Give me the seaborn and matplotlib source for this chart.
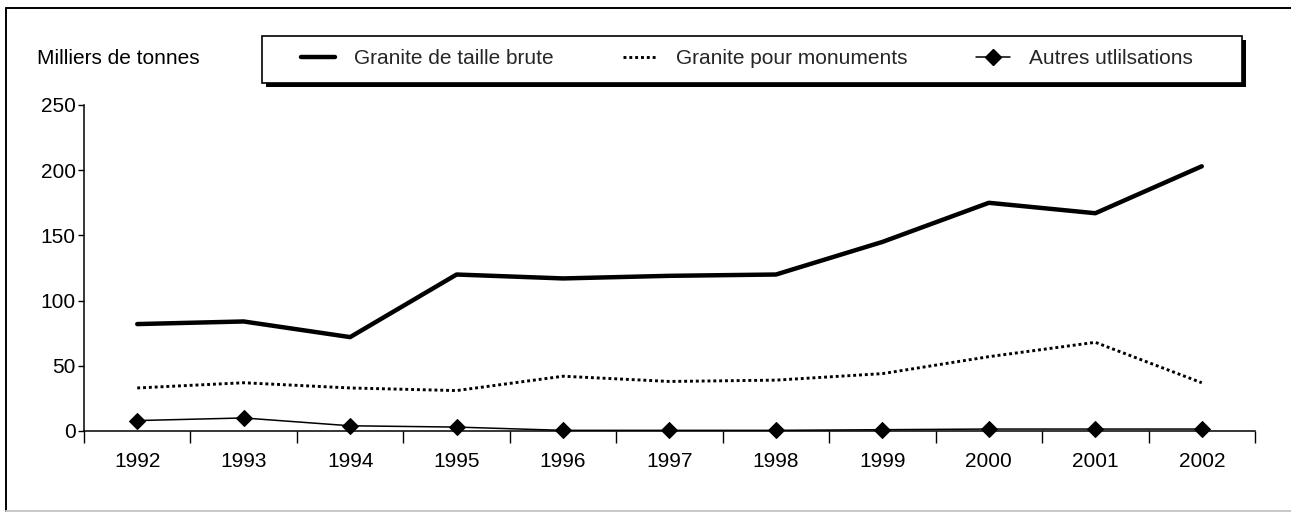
import matplotlib
matplotlib.use("Agg")
import matplotlib.pyplot as plt
from matplotlib.lines import Line2D
from matplotlib.patches import Rectangle
import numpy as np
import pandas as pd
import seaborn as sns

sns.set_theme(style="white")
plt.rcParams["font.family"] = ["Liberation Sans", "DejaVu Sans"]

annees = [1992, 1993, 1994, 1995, 1996, 1997, 1998, 1999, 2000, 2001, 2002]
taille_brute = [82, 84, 72, 120, 117, 119, 120, 145, 175, 167, 203]
monuments = [33, 37, 33, 31, 42, 38, 39, 44, 57, 68, 37]
autres = [8, 10, 4, 3, 0.5, 0.5, 0.5, 1, 1.5, 1.5, 1.5]

noms = ["Granite de taille brute", "Granite pour monuments", "Autres utlilsations"]

df = pd.DataFrame({"annee": annees, noms[0]: taille_brute,
                   noms[1]: monuments, noms[2]: autres})

FS = 15
W, H = 1291, 514

fig = plt.figure(figsize=(12.91, 5.14), dpi=100)
ax = fig.add_axes([84 / W, 1 - 431 / H, (1255 - 84) / W, (431 - 105) / H])

sns.lineplot(data=df, x="annee", y=noms[0], ax=ax, color="black", lw=3.2)
sns.lineplot(data=df, x="annee", y=noms[1], ax=ax, color="black", lw=2.1,
             linestyle=(0, (1, 1.0)))
sns.lineplot(data=df, x="annee", y=noms[2], ax=ax, color="black", lw=1.1,
             marker="D", markersize=8, markeredgecolor="black", clip_on=False)

ax.set_xlim(annees[0] - 0.5, annees[-1] + 0.5)
ax.set_ylim(0, 250)
ax.set_yticks(np.arange(0, 251, 50))
ax.set_xticks(annees)
ax.set_xticks(np.arange(annees[0] - 0.5, annees[-1] + 1, 1), minor=True)
ax.set_xlabel("")
ax.set_ylabel("")

for s in ["top", "right"]:
    ax.spines[s].set_visible(False)
for s in ["left", "bottom"]:
    ax.spines[s].set_color("black")
    ax.spines[s].set_linewidth(1.1)

ax.tick_params(axis="y", which="major", left=True, length=4, width=1,
               color="black", labelsize=FS, pad=2, labelcolor="black")
ax.tick_params(axis="x", which="major", bottom=True, length=0, labelsize=FS,
               pad=15, labelcolor="black")
ax.tick_params(axis="x", which="minor", bottom=True, length=8.5, width=1,
               color="black")

fig.text(37 / W, 1 - 59 / H, "Milliers de tonnes", fontsize=FS,
         va="center", ha="left", color="black")

# boite de la legende avec ombre
x0, y0, x1, y1 = 262, 36, 1242, 83
fig.add_artist(Rectangle(((x0 + 4) / W, 1 - (y1 + 4) / H), (x1 - x0) / W,
                         (y1 - y0) / H, transform=fig.transFigure,
                         facecolor="black", edgecolor="none", zorder=1))
fig.add_artist(Rectangle((x0 / W, 1 - y1 / H), (x1 - x0) / W, (y1 - y0) / H,
                         transform=fig.transFigure, facecolor="white",
                         edgecolor="black", lw=1.2, zorder=2))

handles = [
    Line2D([], [], color="black", lw=3.2),
    Line2D([], [], color="black", lw=2.1, linestyle=(0, (1, 1.0))),
    Line2D([], [], color="black", lw=1.1, marker="D", markersize=8),
]
leg = fig.legend(handles, noms, loc="center", ncol=3, fontsize=FS,
                 bbox_to_anchor=(747 / W, 1 - 59 / H), frameon=False,
                 handlelength=1.65, handletextpad=0.9, columnspacing=3.3,
                 borderpad=0, borderaxespad=0)
leg.set_zorder(3)

# cadre de la figure
fig.add_artist(Line2D([6 / W, 6 / W], [1 - 8 / H, 3 / H],
                      transform=fig.transFigure, color="black", lw=1.4))
fig.add_artist(Line2D([6 / W, 1], [1 - 8 / H, 1 - 8 / H],
                      transform=fig.transFigure, color="black", lw=1.4))
fig.add_artist(Line2D([6 / W, 1], [3 / H, 3 / H],
                      transform=fig.transFigure, color="#c8c8c8", lw=1.4))

fig.savefig("out.png", dpi=100)
